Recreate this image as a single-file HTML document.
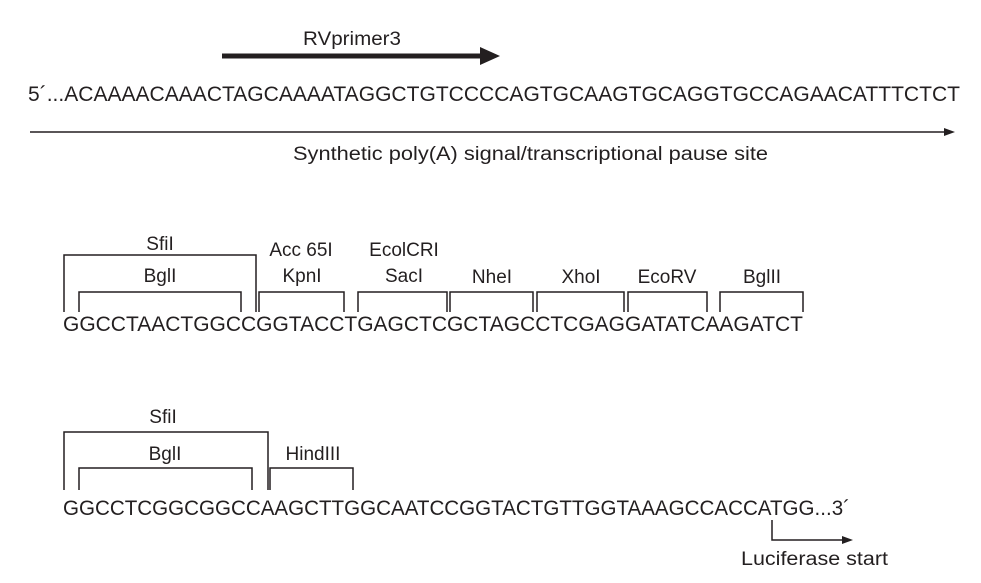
<!DOCTYPE html>
<html><head><meta charset="utf-8"><style>
html,body{margin:0;padding:0;background:#fff;}
svg{display:block;}
text{font-family:"Liberation Sans",sans-serif;fill:#231f20;}
</style></head><body>
<svg width="981" height="583" viewBox="0 0 981 583" xmlns="http://www.w3.org/2000/svg">
<g stroke="#231f20" fill="none" stroke-width="1.5">
<line x1="222" y1="56" x2="484" y2="56" stroke-width="5"/>
<line x1="30" y1="132" x2="946" y2="132"/>
<polyline points="64,312 64,255 256,255 256,312"/>
<polyline points="79,312 79,292 241,292 241,312"/>
<polyline points="259,312 259,292 344,292 344,312"/>
<polyline points="358,312 358,292 447,292 447,312"/>
<polyline points="450,312 450,292 533,292 533,312"/>
<polyline points="537,312 537,292 624,292 624,312"/>
<polyline points="628,312 628,292 707,292 707,312"/>
<polyline points="720,312 720,292 803,292 803,312"/>
<polyline points="64,490 64,432 268,432 268,490"/>
<polyline points="79,490 79,468 252,468 252,490"/>
<polyline points="270,490 270,468 353,468 353,490"/>
<polyline points="772,520 772,540 843,540"/>
</g>
<polygon points="480,47 500,56 480,65" fill="#231f20"/>
<polygon points="944,128 955,132 944,136" fill="#231f20"/>
<polygon points="842,536 853,540 842,544" fill="#231f20"/>

<text x="303" y="45" font-size="19" textLength="98" lengthAdjust="spacingAndGlyphs">RVprimer3</text>
<text x="28" y="101" font-size="21" textLength="932" lengthAdjust="spacingAndGlyphs">5´...ACAAAACAAACTAGCAAAATAGGCTGTCCCCAGTGCAAGTGCAGGTGCCAGAACATTTCTCT</text>
<text x="293" y="160" font-size="19" textLength="475" lengthAdjust="spacingAndGlyphs">Synthetic poly(A) signal/transcriptional pause site</text>

<g font-size="19" text-anchor="middle">
<text x="160" y="250">SfiI</text>
<text x="160" y="282">BglI</text>
<text x="301" y="256">Acc 65I</text>
<text x="302" y="282">KpnI</text>
<text x="404" y="256">EcolCRI</text>
<text x="404" y="282">SacI</text>
<text x="492" y="283">NheI</text>
<text x="581" y="283">XhoI</text>
<text x="667" y="283">EcoRV</text>
<text x="762" y="283">BglII</text>
<text x="163" y="423">SfiI</text>
<text x="165" y="460">BglI</text>
<text x="313" y="460">HindIII</text>
</g>
<text x="63" y="331" font-size="21" textLength="740" lengthAdjust="spacingAndGlyphs">GGCCTAACTGGCCGGTACCTGAGCTCGCTAGCCTCGAGGATATCAAGATCT</text>
<text x="63" y="515" font-size="21" textLength="787" lengthAdjust="spacingAndGlyphs">GGCCTCGGCGGCCAAGCTTGGCAATCCGGTACTGTTGGTAAAGCCACCATGG...3´</text>
<text x="741" y="565" font-size="19" textLength="147" lengthAdjust="spacingAndGlyphs">Luciferase start</text>
</svg>
</body></html>
